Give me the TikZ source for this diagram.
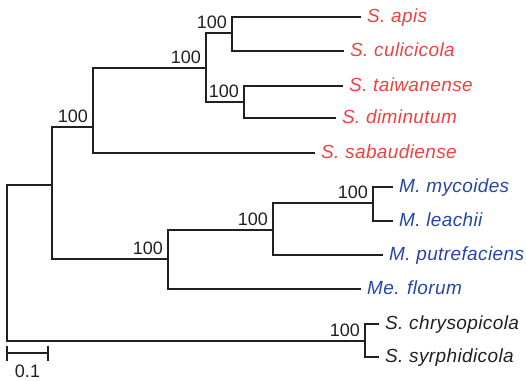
\documentclass[tikz,border=0pt]{standalone}
\usepackage{fontspec}
\setmainfont{Liberation Sans}
\newfontfamily\taxonfont[LetterSpace=2.0]{Liberation Sans}
\definecolor{spiro}{RGB}{238,66,66}
\definecolor{myco}{RGB}{38,70,165}
\definecolor{ink}{RGB}{35,31,32}
\begin{document}
\begin{tikzpicture}[x=1pt,y=-1pt,
  branch/.style={draw=ink,line width=1.5pt,line cap=rect},
  boot/.style={anchor=base east,inner sep=0pt,xshift=-5pt,yshift=5pt,
    text=ink,font=\fontsize{18}{18}\selectfont},
  taxon/.style={anchor=base west,inner sep=0pt,xshift=7pt,yshift=-5pt,
    font=\taxonfont\itshape\fontsize{19}{19}\selectfont},
  redtaxon/.style={taxon,text=spiro},
  bluetaxon/.style={taxon,text=myco},
  inktaxon/.style={taxon,text=ink}]
\useasboundingbox (0,0) rectangle (526,380);

% leaves
\coordinate (apis) at (360,17);
\coordinate (culi) at (343,51);
\coordinate (taiw) at (342,86);
\coordinate (dimi) at (335,118);
\coordinate (saba) at (314,153);
\coordinate (myco) at (392,187);
\coordinate (leac) at (392,221);
\coordinate (putr) at (382,255);
\coordinate (flor) at (360,289);
\coordinate (chry) at (378,324);
\coordinate (syrp) at (378,357);

% internal nodes
\coordinate (n1) at (232,33);
\coordinate (n2) at (244,102);
\coordinate (n3) at (206,68);
\coordinate (n4) at (93,127);
\coordinate (n5) at (373,203);
\coordinate (n6) at (273,230);
\coordinate (n7) at (168,259);
\coordinate (n8) at (52,185);
\coordinate (n9) at (365,341);
\coordinate (root) at (7,263);

% branches
\draw[branch] (n1) |- (apis) (n1) |- (culi);
\draw[branch] (n2) |- (taiw) (n2) |- (dimi);
\draw[branch] (n3) |- (n1) (n3) |- (n2);
\draw[branch] (n4) |- (n3) (n4) |- (saba);
\draw[branch] (n5) |- (myco) (n5) |- (leac);
\draw[branch] (n6) |- (n5) (n6) |- (putr);
\draw[branch] (n7) |- (n6) (n7) |- (flor);
\draw[branch] (n8) |- (n4) (n8) |- (n7);
\draw[branch] (n9) |- (chry) (n9) |- (syrp);
\draw[branch] (root) |- (n8) (root) |- (n9);

% bootstrap support
\foreach \n in {n1,n2,n3,n4,n5,n6,n7,n9}
  \node[boot] (b\n) at (\n) {100};

% taxon names
\node[redtaxon] (tapis) at (apis) {S. apis};
\node[redtaxon] (tculi) at (culi) {S. culicicola};
\node[redtaxon] (ttaiw) at (taiw) {S. taiwanense};
\node[redtaxon] (tdimi) at (dimi) {S. diminutum};
\node[redtaxon] (tsaba) at (saba) {S. sabaudiense};
\node[bluetaxon] (tmyco) at (myco) {M. mycoides};
\node[bluetaxon] (tleac) at (leac) {M. leachii};
\node[bluetaxon] (tputr) at (putr) {M. putrefaciens};
\node[bluetaxon] (tflor) at (flor) {Me. florum};
\node[inktaxon] (tchry) at (chry) {S. chrysopicola};
\node[inktaxon] (tsyrp) at (syrp) {S. syrphidicola};

% scale bar
\coordinate (s0) at (7,353);
\coordinate (s1) at (48,353);
\draw[branch,line cap=butt] (s0) -- (s1);
\draw[branch,line cap=butt] ([yshift=7.5pt]s0) -- ([yshift=-7.5pt]s0);
\draw[branch,line cap=butt] ([yshift=7.5pt]s1) -- ([yshift=-7.5pt]s1);
\node[anchor=base,inner sep=0pt,text=ink,font=\fontsize{18}{18}\selectfont] (sl) at (27.5,377.5) {0.1};
\end{tikzpicture}
\end{document}
